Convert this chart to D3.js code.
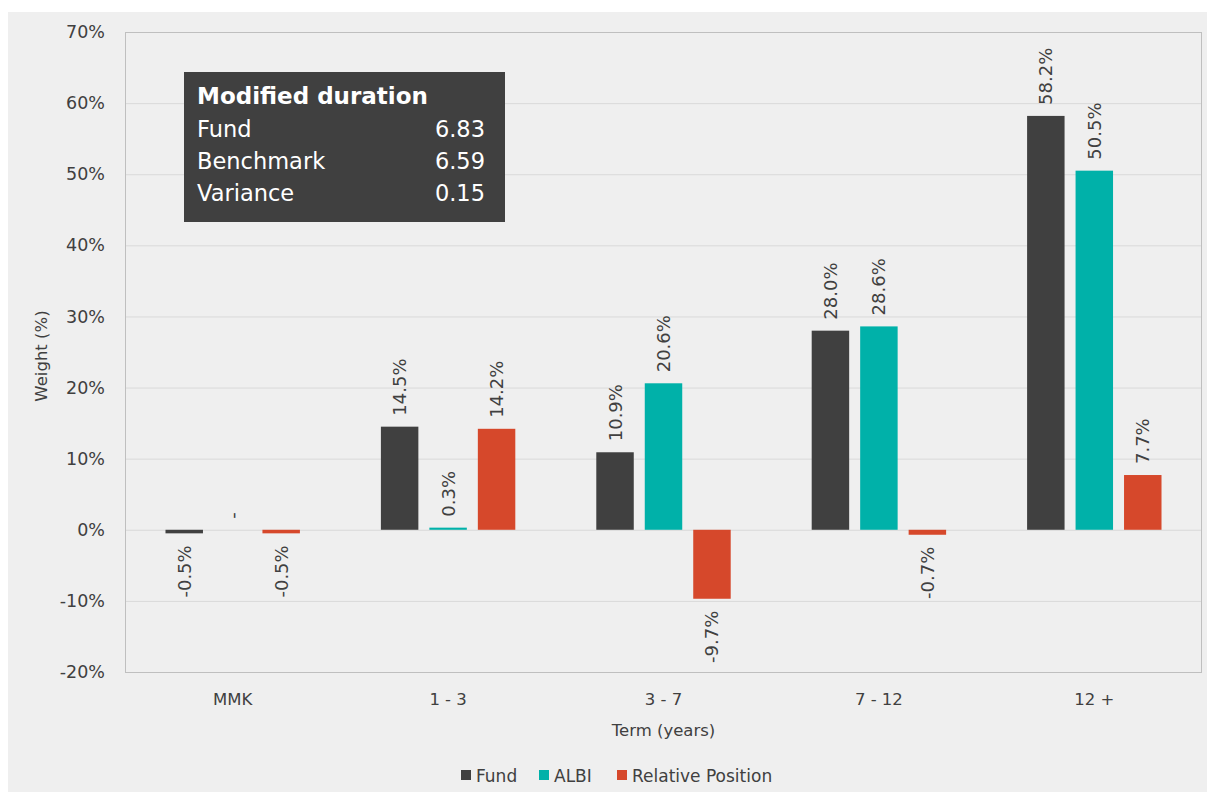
<!DOCTYPE html>
<html>
<head>
<meta charset="utf-8">
<script src="https://cdn.jsdelivr.net/npm/d3@7"></script>
<style>
  html, body { margin: 0; padding: 0; background: #fff; }
  #chart { width: 1207px; height: 792px; }
</style>
</head>
<body>
<div id="chart"></div>
<script>
const categories = ["MMK", "1 - 3", "3 - 7", "7 - 12", "12 +"];
const seriesNames = ["Fund", "ALBI", "Relative Position"];
const fundValues = [-0.5, 14.5, 10.9, 28.0, 58.2];
const albiValues = [0.0, 0.3, 20.6, 28.6, 50.5];
const relativeValues = [-0.5, 14.2, -9.7, -0.7, 7.7];
const albiLabels = ["-", "0.3%", "20.6%", "28.6%", "50.5%"];
const yTicks = [-20, -10, 0, 10, 20, 30, 40, 50, 60, 70];
const durationRows = [["Fund", "6.83"], ["Benchmark", "6.59"], ["Variance", "0.15"]];

const colors = {
  Fund: "#404040",
  ALBI: "#00b1a9",
  "Relative Position": "#d6482b"
};

const W = 1207, H = 792;
const font = "DejaVu Sans, Verdana, sans-serif";
const plot = { left: 125, top: 32, right: 1202, bottom: 672 };

const svg = d3.select("#chart").append("svg")
  .attr("width", W).attr("height", H)
  .style("font-family", font);

// chart background
svg.append("rect")
  .attr("x", 8).attr("y", 12).attr("width", W - 8).attr("height", H - 12)
  .attr("fill", "#efefef");

const y = d3.scaleLinear().domain([-20, 70]).range([plot.bottom, plot.top]);
const x0 = d3.scaleBand().domain(categories)
  .range([plot.left, plot.right])
  .paddingInner(0.376).paddingOuter(0.188);
const x1 = d3.scaleBand().domain(seriesNames)
  .range([0, x0.bandwidth()])
  .paddingInner(0.227);

// gridlines
svg.append("g")
  .selectAll("line")
  .data(yTicks)
  .join("line")
    .attr("x1", plot.left).attr("x2", plot.right)
    .attr("y1", d => y(d) + 0.5).attr("y2", d => y(d) + 0.5)
    .attr("stroke", "#d9d9d9").attr("stroke-width", 1);

// plot border
svg.append("rect")
  .attr("x", plot.left + 0.5).attr("y", plot.top + 0.5)
  .attr("width", plot.right - plot.left - 1).attr("height", plot.bottom - plot.top)
  .attr("fill", "none").attr("stroke", "#bfbfbf");

// y axis labels
const yAxis = d3.axisLeft(y).tickValues(yTicks).tickFormat(d => d + "%").tickSize(0).tickPadding(20);
const yg = svg.append("g").attr("transform", `translate(${plot.left},0)`).call(yAxis);
yg.select(".domain").remove();
yg.selectAll("text").attr("font-size", 17.5).attr("fill", "#404040").attr("font-family", font);

// x axis labels
const xAxis = d3.axisBottom(x0).tickSize(0).tickPadding(21);
const xg = svg.append("g").attr("transform", `translate(0,${plot.bottom})`).call(xAxis);
xg.select(".domain").remove();
xg.selectAll("text").attr("font-size", 16.5).attr("fill", "#404040").attr("font-family", font);

// axis titles
svg.append("text")
  .attr("x", (plot.left + plot.right) / 2).attr("y", 736)
  .attr("text-anchor", "middle").attr("font-size", 16.5).attr("fill", "#404040")
  .text("Term (years)");
svg.append("text")
  .attr("transform", `translate(47,356) rotate(-90)`)
  .attr("text-anchor", "middle").attr("font-size", 16.5).attr("fill", "#404040")
  .text("Weight (%)");

// bars
const rows = categories.map((c, i) => ({
  cat: c,
  items: [
    { s: "Fund", v: fundValues[i], label: fundValues[i].toFixed(1) + "%" },
    { s: "ALBI", v: albiValues[i], label: albiLabels[i] },
    { s: "Relative Position", v: relativeValues[i], label: relativeValues[i].toFixed(1) + "%" }
  ]
}));

const groups = svg.append("g").selectAll("g")
  .data(rows)
  .join("g")
    .attr("transform", d => `translate(${x0(d.cat)},0)`);

groups.selectAll("rect")
  .data(d => d.items)
  .join("rect")
    .attr("x", d => x1(d.s))
    .attr("width", x1.bandwidth())
    .attr("y", d => y(Math.max(0, d.v)))
    .attr("height", d => Math.abs(y(d.v) - y(0)))
    .attr("fill", d => colors[d.s]);

// data labels (rotated)
groups.selectAll("text.lbl")
  .data(d => d.items)
  .join("text")
    .attr("class", "lbl")
    .attr("transform", d => {
      const cx = x1(d.s) + x1.bandwidth() / 2;
      const yy = d.v >= 0 ? y(d.v) - 11 : y(d.v) + 12;
      return `translate(${cx + 6.5},${yy}) rotate(-90)`;
    })
    .attr("text-anchor", d => d.v >= 0 ? "start" : "end")
    .attr("font-size", 18)
    .attr("fill", "#404040")
    .text(d => d.label);

// modified duration box
const box = svg.append("g").attr("transform", "translate(184,72)");
box.append("rect").attr("width", 321).attr("height", 150).attr("fill", "#404040");
box.append("text")
  .attr("x", 13).attr("y", 32)
  .attr("font-size", 23).attr("font-weight", "bold").attr("fill", "#fff")
  .text("Modified duration");
box.selectAll("text.row")
  .data(durationRows)
  .join("text")
    .attr("class", "row")
    .attr("x", 13).attr("y", (d, i) => 65 + i * 32)
    .attr("font-size", 22.5).attr("fill", "#fff")
    .text(d => d[0]);
box.selectAll("text.val")
  .data(durationRows)
  .join("text")
    .attr("class", "val")
    .attr("x", 301).attr("y", (d, i) => 65 + i * 32)
    .attr("text-anchor", "end")
    .attr("font-size", 22.5).attr("fill", "#fff")
    .text(d => d[1]);

// legend
const legendX = [461, 539, 617];
const legend = svg.append("g").selectAll("g")
  .data(seriesNames)
  .join("g")
    .attr("transform", (d, i) => `translate(${legendX[i]},770)`);
legend.append("rect")
  .attr("x", 0).attr("y", 0).attr("width", 10).attr("height", 10)
  .attr("fill", d => colors[d]);
legend.append("text")
  .attr("x", 15).attr("y", 11.5)
  .attr("font-size", 17).attr("fill", "#404040")
  .text(d => d);
</script>
</body>
</html>
